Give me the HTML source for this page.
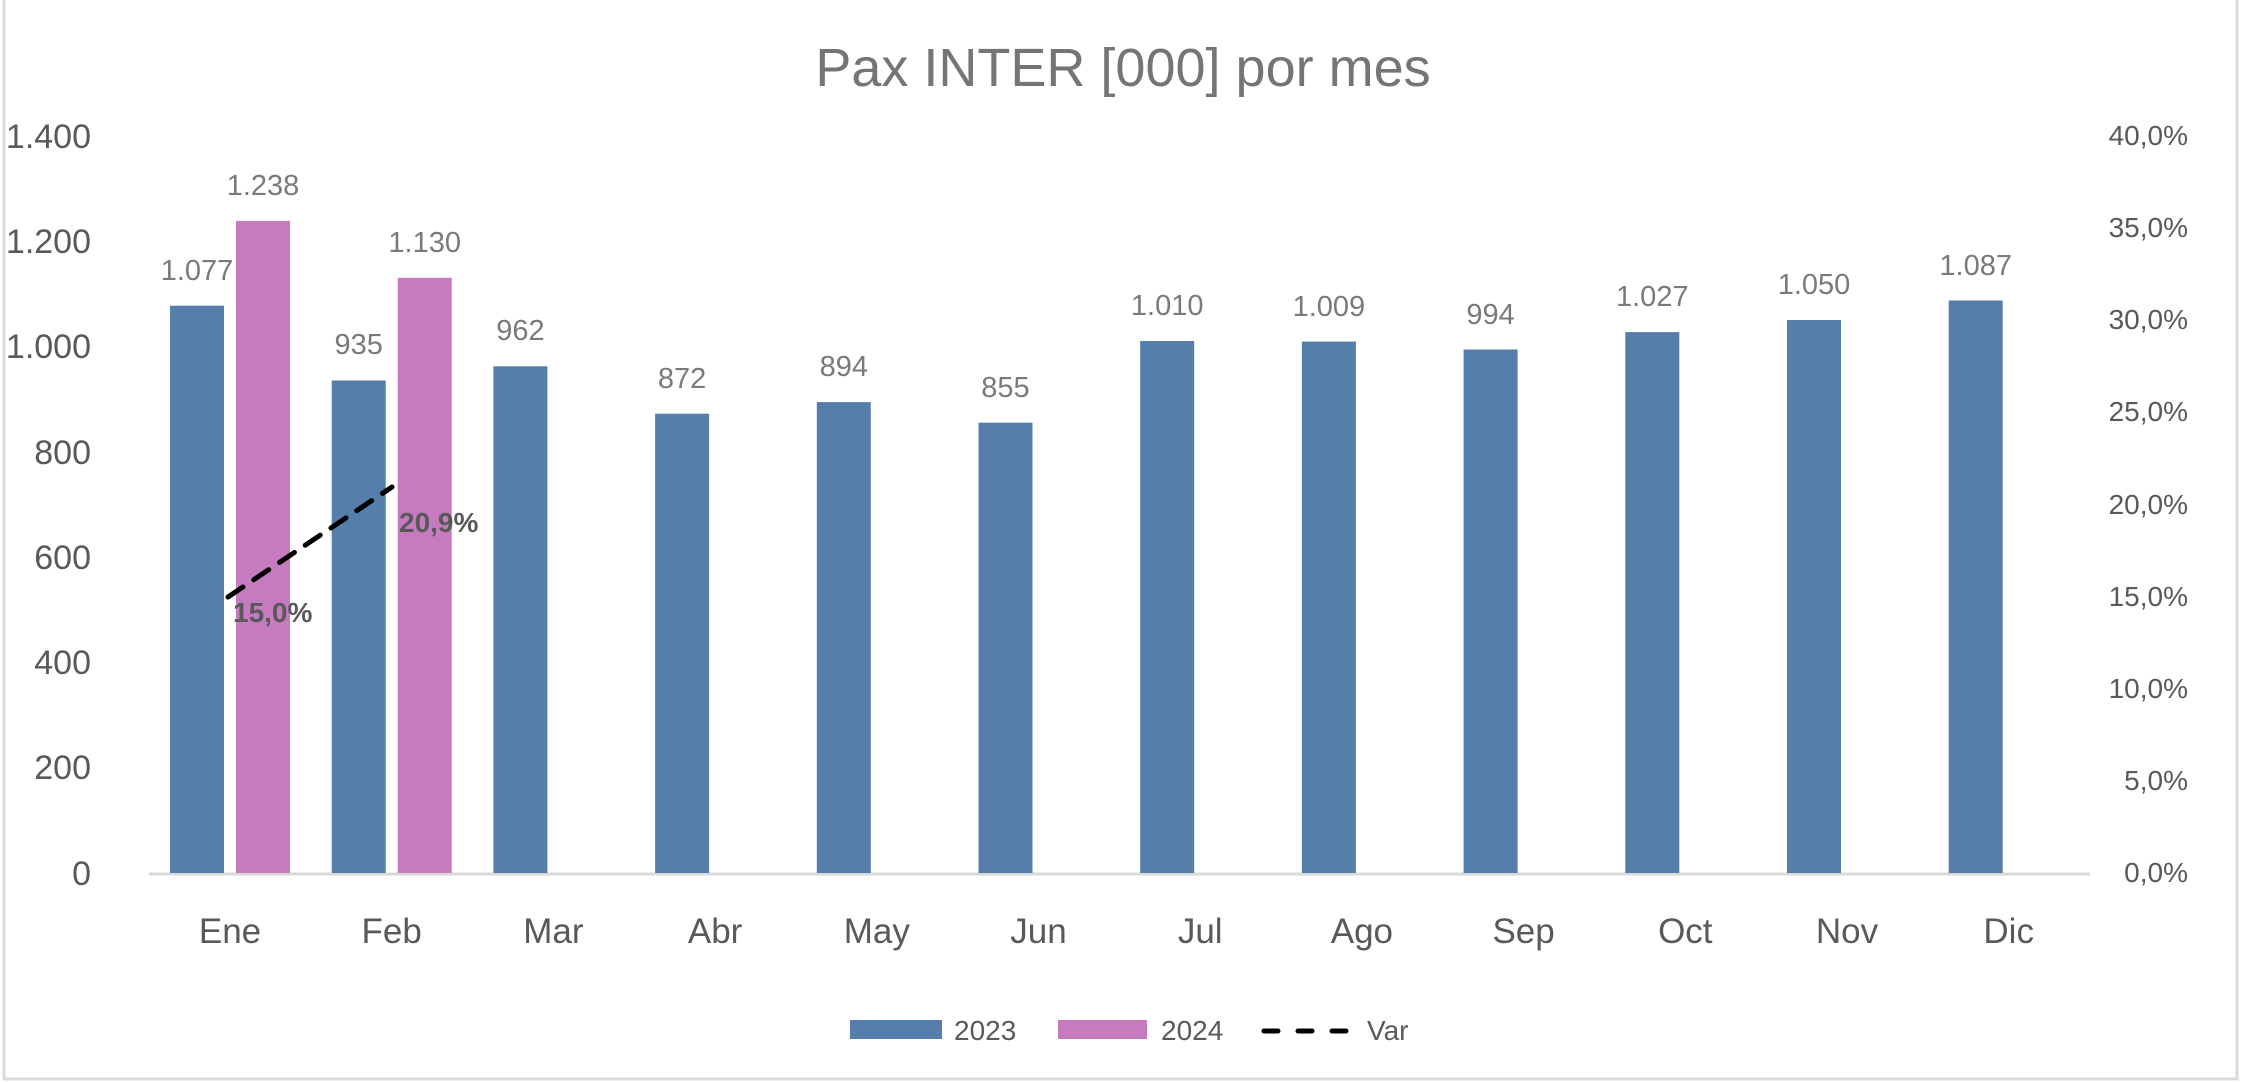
<!DOCTYPE html>
<html><head><meta charset="utf-8"><style>html,body{margin:0;padding:0;background:#fff}svg{display:block}</style></head>
<body>
<svg xmlns="http://www.w3.org/2000/svg" width="2244" height="1082" viewBox="0 0 2244 1082" font-family="'Liberation Sans', sans-serif">
<rect x="0" y="0" width="2244" height="1082" fill="#fff"/>
<rect x="4" y="-2" width="2233" height="1081" fill="none" stroke="#d9d9d9" stroke-width="3"/>
<text x="1123" y="86" text-anchor="middle" font-size="54" fill="#757575">Pax INTER [000] por mes</text>
<g font-size="34" fill="#595959" text-anchor="end">
<text x="91" y="148">1.400</text><text x="91" y="253">1.200</text><text x="91" y="358">1.000</text>
<text x="91" y="464">800</text><text x="91" y="569">600</text><text x="91" y="674">400</text>
<text x="91" y="779">200</text><text x="91" y="885">0</text>
</g>
<g font-size="28" fill="#595959" text-anchor="end">
<text x="2188" y="145">40,0%</text><text x="2188" y="237">35,0%</text><text x="2188" y="329">30,0%</text>
<text x="2188" y="421">25,0%</text><text x="2188" y="514">20,0%</text><text x="2188" y="606">15,0%</text>
<text x="2188" y="698">10,0%</text><text x="2188" y="790">5,0%</text><text x="2188" y="882">0,0%</text>
</g>
<line x1="149" y1="874" x2="2090" y2="874" stroke="#d9d9d9" stroke-width="3"/>
<g fill="#557eab">
<rect x="170" y="305.7" width="54" height="567.3"/>
<rect x="331.7" y="380.5" width="54" height="492.5"/>
<rect x="493.4" y="366.3" width="54" height="506.7"/>
<rect x="655.1" y="413.7" width="54" height="459.3"/>
<rect x="816.8" y="402.1" width="54" height="470.9"/>
<rect x="978.5" y="422.7" width="54" height="450.3"/>
<rect x="1140.2" y="341" width="54" height="532"/>
<rect x="1301.9" y="341.6" width="54" height="531.4"/>
<rect x="1463.6" y="349.5" width="54" height="523.5"/>
<rect x="1625.3" y="332.1" width="54" height="540.9"/>
<rect x="1787" y="320" width="54" height="553"/>
<rect x="1948.7" y="300.5" width="54" height="572.5"/>
</g>
<g fill="#c67abf">
<rect x="236" y="220.9" width="54" height="652.1"/>
<rect x="397.7" y="277.8" width="54" height="595.2"/>
</g>
<g font-size="29" fill="#7a7a7a" text-anchor="middle">
<text x="197" y="280">1.077</text>
<text x="358.7" y="354">935</text>
<text x="520.4" y="340">962</text>
<text x="682.1" y="388">872</text>
<text x="843.8" y="376">894</text>
<text x="1005.5" y="397">855</text>
<text x="1167.2" y="315">1.010</text>
<text x="1328.9" y="316">1.009</text>
<text x="1490.6" y="324">994</text>
<text x="1652.3" y="306">1.027</text>
<text x="1814" y="294">1.050</text>
<text x="1975.7" y="275">1.087</text>
<text x="263" y="195">1.238</text>
<text x="424.7" y="252">1.130</text>
</g>
<g font-size="35" fill="#595959" text-anchor="middle">
<text x="230" y="943">Ene</text><text x="391.7" y="943">Feb</text><text x="553.4" y="943">Mar</text>
<text x="715.1" y="943">Abr</text><text x="876.8" y="943">May</text><text x="1038.5" y="943">Jun</text>
<text x="1200.2" y="943">Jul</text><text x="1361.9" y="943">Ago</text><text x="1523.6" y="943">Sep</text>
<text x="1685.3" y="943">Oct</text><text x="1847" y="943">Nov</text><text x="2008.7" y="943">Dic</text>
</g>
<line x1="228" y1="597" x2="392" y2="487" stroke="#000" stroke-width="5" stroke-dasharray="18,13" stroke-linecap="round"/>
<text x="233" y="622" font-size="28" font-weight="bold" fill="#595959">15,0%</text>
<text x="399" y="532" font-size="28" font-weight="bold" fill="#595959">20,9%</text>
<rect x="850" y="1020" width="92" height="19" fill="#557eab"/>
<text x="954" y="1040" font-size="28" fill="#595959">2023</text>
<rect x="1058" y="1020" width="89" height="19" fill="#c67abf"/>
<text x="1161" y="1040" font-size="28" fill="#595959">2024</text>
<line x1="1264" y1="1031" x2="1356" y2="1031" stroke="#000" stroke-width="5" stroke-dasharray="14,20" stroke-linecap="round"/>
<text x="1367" y="1040" font-size="28" fill="#595959">Var</text>
</svg>
</body></html>
